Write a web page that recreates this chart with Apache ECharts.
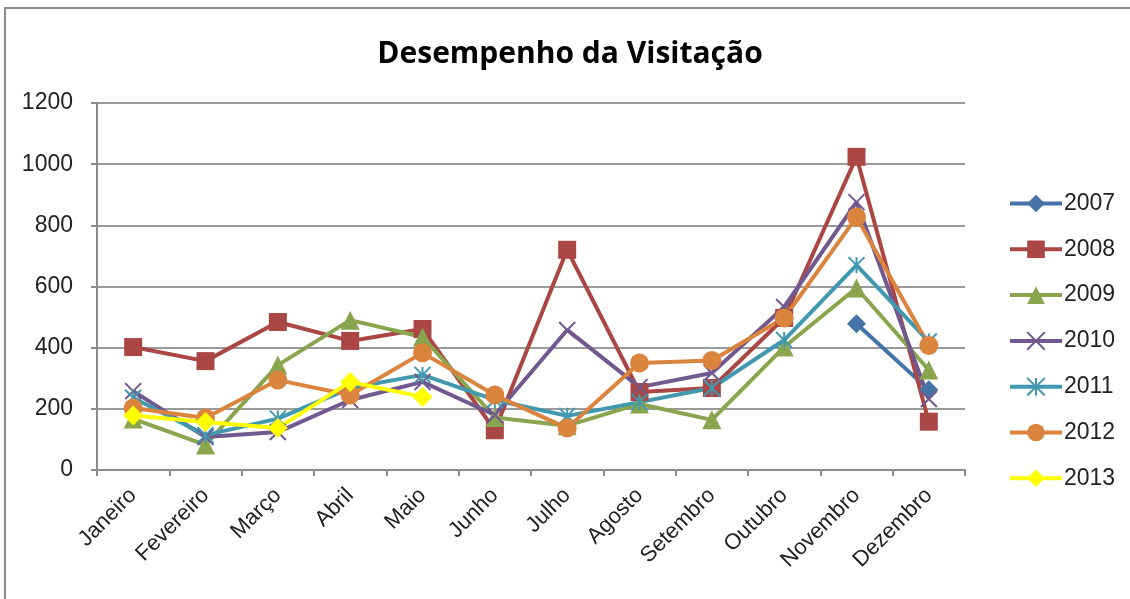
<!DOCTYPE html>
<html><head><meta charset="utf-8">
<script src="https://cdn.jsdelivr.net/npm/echarts@6/dist/echarts.min.js"></script>
<style>html,body{margin:0;padding:0;background:#fff}#c{width:1130px;height:599px}</style>
</head><body><div id="c"></div>
<script>
const categories = ['Janeiro','Fevereiro','Março','Abril','Maio','Junho','Julho','Agosto','Setembro','Outubro','Novembro','Dezembro'];
const y2007 = [null,null,null,null,null,null,null,null,null,null,478,262];
const y2008 = [402,356,484,422,461,130,720,255,268,497,1024,158];
const y2009 = [167,82,343,490,435,172,145,216,164,402,595,327];
const y2010 = [258,108,124,229,288,180,458,271,317,533,876,232];
const y2011 = [236,114,168,268,311,229,177,222,268,425,670,420];
const y2012 = [203,170,294,245,383,245,137,350,358,497,827,407];
const y2013 = [178,157,137,288,239,null,null,null,null,null,null,null];
const yTicks = [0,200,400,600,800,1000,1200];

const XPATH = 'path://M0,0L10,10M10,0L0,10';
const STAR = 'path://M5,0L5,10M0,0L10,10M10,0L0,10';
function mk(name, data, color, symbol, size, stroke){
  return {
    name, type:'line', data, connectNulls:false,
    symbol, symbolSize:size,
    lineStyle:{color, width:4},
    itemStyle: stroke ? {color:'rgba(0,0,0,0)', borderColor:color, borderWidth:2} : {color, borderWidth:0},
    color,
    emphasis:{disabled:true}
  };
}
const chart = echarts.init(document.getElementById('c'));
chart.setOption({
  animation:false,
  backgroundColor:'#fff',
  textStyle:{fontFamily:'Liberation Sans, Arial, sans-serif'},
  title:{text:'Desempenho da Visitação', left:565, top:34, textAlign:'center',
    textStyle:{fontSize:30, fontWeight:'bold', color:'#000', fontFamily:'Open Sans, Liberation Sans, sans-serif'}},
  graphic:[{type:'rect', shape:{x:5, y:8, width:1200, height:700}, style:{fill:'none', stroke:'#8c8c8c', lineWidth:2}, silent:true}],
  legend:{orient:'vertical', left:1003, top:187, itemGap:22.8, itemWidth:52, itemHeight:22,
    lineStyle:{width:4},
    textStyle:{fontSize:23, color:'#222', padding:[0,0,0,-3]}, data:['2007','2008','2009','2010','2011','2012','2013']},
  grid:{left:97, right:165, top:103, bottom:129},
  xAxis:{type:'category', data:categories, boundaryGap:true,
    axisLine:{lineStyle:{color:'#8c8c8c', width:2}},
    axisTick:{show:true, length:6, alignWithLabel:false, lineStyle:{color:'#8c8c8c', width:2}},
    axisLabel:{rotate:45, fontSize:22, color:'#222', margin:22, interval:0}},
  yAxis:{type:'value', min:0, max:1200, interval:200,
    axisLine:{show:true, lineStyle:{color:'#8c8c8c', width:2}},
    axisTick:{show:true, length:6, lineStyle:{color:'#8c8c8c', width:2}},
    splitLine:{lineStyle:{color:'#9a9a9a', width:2}},
    axisLabel:{fontSize:23, color:'#222', margin:24, formatter:v=>yTicks.includes(v)?String(v):''}},
  series:[
    mk('2007', y2007, '#4572A7', 'diamond', 19),
    mk('2008', y2008, '#AA4643', 'rect', 18),
    mk('2009', y2009, '#89A54E', 'triangle', 19),
    mk('2010', y2010, '#71588F', XPATH, 16, true),
    mk('2011', y2011, '#4198AF', STAR, 16, true),
    mk('2012', y2012, '#DB843D', 'circle', 19),
    mk('2013', y2013, '#FFFF00', 'diamond', 20)
  ]
});
</script></body></html>
